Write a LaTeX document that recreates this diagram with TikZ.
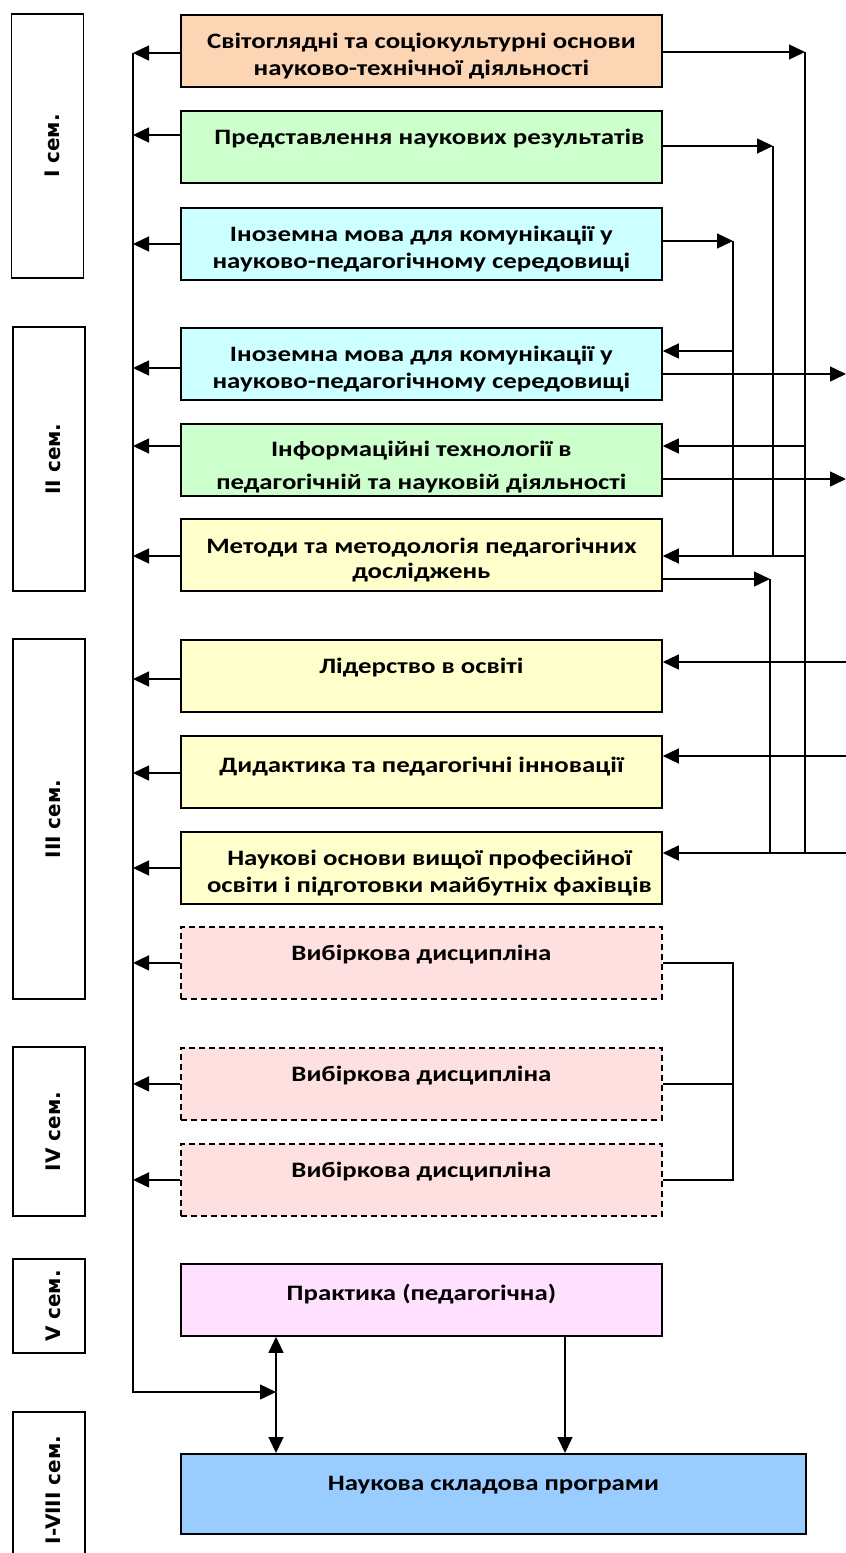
\documentclass[tikz,border=0pt]{standalone}
\usepackage{fontspec}
\setmainfont{Carlito}[FakeStretch=1.22]
\newfontfamily\semfont{DejaVu Sans}
\usetikzlibrary{arrows.meta,calc}

\definecolor{peach}{RGB}{252,213,180}
\definecolor{mint}{RGB}{204,255,204}
\definecolor{aqua}{RGB}{204,255,255}
\definecolor{cream}{RGB}{255,255,204}
\definecolor{blush}{RGB}{255,224,224}
\definecolor{lilac}{RGB}{255,224,255}
\definecolor{sky}{RGB}{153,204,255}

\begin{document}
\begin{tikzpicture}[x=1pt, y=-1pt]
    % Define basic node styles
    \tikzset{
        course/.style={
            rectangle,
            draw,
            line width=1.8pt,
            anchor=north west,
            minimum width=481pt,
            minimum height=72pt,
            inner xsep=0pt,
            inner ysep=0pt,
            text height=34pt,
            text depth=38pt,
            align=center,
            font=\fontsize{22}{27}\selectfont\bfseries
        },
        twoline/.style={text height=61pt, text depth=11pt},
        elective/.style={course, dash pattern=on 6pt off 4pt},
        sem/.style={
            rectangle,
            draw,
            line width=1.8pt,
            rotate=90,
            minimum height=72pt,
            inner sep=0pt,
            text height=23pt,
            text depth=0pt,
            font=\semfont\fontsize{20}{22}\selectfont\bfseries
        },
        link/.style={line width=1.4pt},
        arr/.style={link, -{Triangle[length=16pt, width=15pt]}},
        darr/.style={link, {Triangle[length=16pt, width=15pt]}-{Triangle[length=16pt, width=15pt]}}
    }
    \useasboundingbox (0,0) rectangle (846,1553);

    % Semester labels
    \node[sem, minimum width=264pt] (s1) at (47.5,146) {I сем.};
    \node[sem, minimum width=264pt] (s2) at (49,459) {II сем.};
    \node[sem, minimum width=360pt] (s3) at (49,819) {III сем.};
    \node[sem, minimum width=169pt] (s4) at (49,1131.5) {IV сем.};
    \node[sem, minimum width=94pt] (s5) at (49,1306) {V сем.};
    \node[sem, minimum width=156pt] (s8) at (49,1490) {I-VIII сем.};

    % First semester courses
    \node[course, twoline, fill=peach] (b1) at (180,14) {Світоглядні та соціокультурні основи\\науково-технічної діяльності};
    \node[course, fill=mint] (b2) at (180,110) {\hspace*{16pt}Представлення наукових результатів};
    \node[course, twoline, fill=aqua] (b3) at (180,207) {Іноземна мова для комунікації у\\науково-педагогічному середовищі};

    % Second semester courses
    \node[course, twoline, fill=aqua] (b4) at (180,327) {Іноземна мова для комунікації у\\науково-педагогічному середовищі};
    \node[course, fill=mint, text height=66pt, text depth=6pt] (b5) at (180,423) {Інформаційні технології в\\[6pt]педагогічній та науковій діяльності};
    \node[course, fill=cream, text height=60pt, text depth=12pt] (b6) at (180,518) {Методи та методологія педагогічних\\[-2pt]досліджень};

    % Third semester courses
    \node[course, fill=cream] (b7) at (180,639) {Лідерство в освіті};
    \node[course, fill=cream, text height=37pt, text depth=35pt] (b8) at (180,735) {Дидактика та педагогічні інновації};
    \node[course, twoline, fill=cream] (b9) at (180,831) {\hspace*{16pt}Наукові основи вищої професійної\\\hspace*{16pt}освіти і підготовки майбутніх фахівців};

    % Electives (dashed)
    \node[elective, fill=blush] (b10) at (180,926) {Вибіркова дисципліна};
    \node[elective, fill=blush] (b11) at (180,1047) {Вибіркова дисципліна};
    \node[elective, fill=blush] (b12) at (180,1143) {Вибіркова дисципліна};

    % Practice and research part
    \node[course, fill=lilac, text height=37pt, text depth=35pt] (b13) at (180,1263) {Практика (педагогічна)};
    \node[course, fill=sky, minimum width=625pt, minimum height=80pt, text height=37pt, text depth=43pt] (b14) at (180,1453) {Наукова складова програми};

    % Bus lines
    \coordinate (xL) at (133,0);
    \coordinate (xA) at (733,0);
    \coordinate (xB) at (773,0);
    \coordinate (xD) at (770,0);
    \coordinate (xC) at (805,0);
    \coordinate (xR) at (846,0);
    \coordinate (xP) at (565,0);
    \coordinate (jp) at (276,1392);

    % Connection points on the left side
    \coordinate (l1) at ($(b1.north west)+(0,39)$);
    \coordinate (l2) at ($(b2.north west)+(0,25)$);
    \coordinate (l3) at ($(b3.north west)+(0,37)$);
    \coordinate (l4) at ($(b4.north west)+(0,41)$);
    \coordinate (l5) at ($(b5.north west)+(0,23)$);
    \coordinate (l6) at ($(b6.north west)+(0,38)$);
    \coordinate (l7) at ($(b7.north west)+(0,40)$);
    \coordinate (l8) at ($(b8.north west)+(0,38)$);
    \coordinate (l9) at ($(b9.north west)+(0,37)$);

    % Connection points on the right side
    \coordinate (o1) at ($(b1.north east)+(0,38)$);
    \coordinate (o2) at ($(b2.north east)+(0,36)$);
    \coordinate (o3) at ($(b3.north east)+(0,34)$);
    \coordinate (i4) at ($(b4.north east)+(0,24)$);
    \coordinate (o4) at ($(b4.north east)+(0,47)$);
    \coordinate (i5) at ($(b5.north east)+(0,23)$);
    \coordinate (o5) at ($(b5.north east)+(0,56)$);
    \coordinate (i6) at ($(b6.north east)+(0,38)$);
    \coordinate (o6) at ($(b6.north east)+(0,61)$);
    \coordinate (i7) at ($(b7.north east)+(0,23)$);
    \coordinate (i8) at ($(b8.north east)+(0,21)$);
    \coordinate (i9) at ($(b9.north east)+(0,22)$);

    % Arrows to the left bus
    \draw[arr] (l1) -- (l1 -| xL);
    \draw[arr] (l2) -- (l2 -| xL);
    \draw[arr] (l3) -- (l3 -| xL);
    \draw[arr] (l4) -- (l4 -| xL);
    \draw[arr] (l5) -- (l5 -| xL);
    \draw[arr] (l6) -- (l6 -| xL);
    \draw[arr] (l7) -- (l7 -| xL);
    \draw[arr] (l8) -- (l8 -| xL);
    \draw[arr] (l9) -- (l9 -| xL);
    \draw[arr] (b10.west) -- (b10.west -| xL);
    \draw[arr] (b11.west) -- (b11.west -| xL);
    \draw[arr] (b12.west) -- (b12.west -| xL);
    \draw[arr] (l1 -| xL) |- (jp);

    % Links from the first semester
    \draw[arr] (o1) -- (o1 -| xC);
    \draw[arr] (o2) -- (o2 -| xB);
    \draw[arr] (o3) -- (o3 -| xA);
    \draw[link] (o1 -| xC) -- (i9 -| xC);
    \draw[link] (o2 -| xB) -- (i6 -| xB);
    \draw[link] (o3 -| xA) -- (i6 -| xA);

    % Links into the second and third semester
    \draw[arr] (i4 -| xA) -- (i4);
    \draw[arr] (i5 -| xC) -- (i5);
    \draw[arr] (i6 -| xC) -- (i6);
    \draw[arr] (o6) -- (o6 -| xD);
    \draw[link] (o6 -| xD) -- (i9 -| xD);
    \draw[arr] (o4) -- (o4 -| xR);
    \draw[arr] (o5) -- (o5 -| xR);
    \draw[arr] (i7 -| xR) -- (i7);
    \draw[arr] (i8 -| xR) -- (i8);
    \draw[arr] (i9 -| xR) -- (i9);

    % Electives joined on the right
    \draw[link] (b10.east) -| (xA |- b12.east) -- (b12.east);
    \draw[link] (b11.east) -- (b11.east -| xA);

    % Practice and research part
    \draw[darr] (b13.south -| jp) -- (b14.north -| jp);
    \draw[arr] (b13.south -| xP) -- (b14.north -| xP);
\end{tikzpicture}
\end{document}
